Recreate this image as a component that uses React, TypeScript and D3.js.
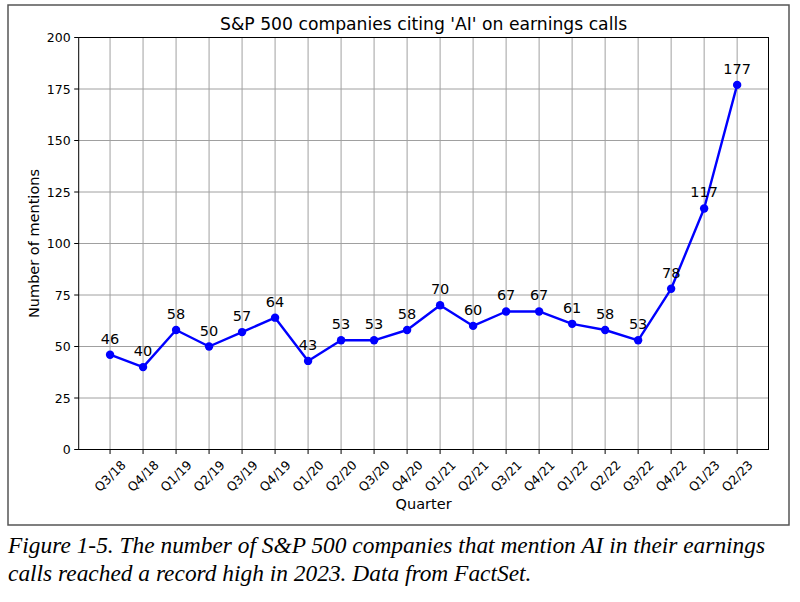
import React from 'react';
import * as d3 from 'd3';

const quarters = [
  'Q3/18', 'Q4/18', 'Q1/19', 'Q2/19', 'Q3/19', 'Q4/19', 'Q1/20', 'Q2/20', 'Q3/20', 'Q4/20',
  'Q1/21', 'Q2/21', 'Q3/21', 'Q4/21', 'Q1/22', 'Q2/22', 'Q3/22', 'Q4/22', 'Q1/23', 'Q2/23',
];
const mentions = [46, 40, 58, 50, 57, 64, 43, 53, 53, 58, 70, 60, 67, 67, 61, 58, 53, 78, 117, 177];
const yTicks = [0, 25, 50, 75, 100, 125, 150, 175, 200];

const W = 800;
const H = 602;
const plot = { left: 78.7, right: 768.5, top: 37.5, bottom: 449.5 };
const font = 'DejaVu Sans, sans-serif';

const App: React.FC = () => {
  const n = quarters.length;
  const x = d3.scaleLinear().domain([-0.95, n - 1 + 0.95]).range([plot.left, plot.right]);
  const y = d3.scaleLinear().domain([0, 200]).range([plot.bottom, plot.top]);

  const line = d3.line<number>()
    .x((_, i) => x(i))
    .y(d => y(d));

  const cx = (plot.left + plot.right) / 2;
  const cy = (plot.top + plot.bottom) / 2;

  return (
    <div style={{ position: 'absolute', left: 0, top: 0, width: W, height: H, background: '#fff' }}>
      <svg width={W} height={H} style={{ display: 'block' }}>
        <rect x={0} y={0} width={W} height={H} fill="#fff" />
        {/* outer frame */}
        <rect x={8} y={5} width={781} height={520} fill="none" stroke="#555" strokeWidth={1.5} />

        {/* grid */}
        <g stroke="#a0a0a0" strokeWidth={1}>
          {quarters.map((q, i) => (
            <line key={q} x1={x(i)} x2={x(i)} y1={plot.top} y2={plot.bottom} />
          ))}
          {yTicks.map(t => (
            <line key={t} x1={plot.left} x2={plot.right} y1={y(t)} y2={y(t)} />
          ))}
        </g>

        {/* spines */}
        <rect x={plot.left} y={plot.top} width={plot.right - plot.left} height={plot.bottom - plot.top}
          fill="none" stroke="#000" strokeWidth={1} />

        {/* y ticks */}
        <g fontFamily={font} fontSize={12.5} fill="#000">
          {yTicks.map(t => (
            <g key={t}>
              <line x1={plot.left - 4.5} x2={plot.left} y1={y(t)} y2={y(t)} stroke="#000" strokeWidth={1} />
              <text x={plot.left - 8} y={y(t)} dy="0.36em" textAnchor="end">{t}</text>
            </g>
          ))}
        </g>

        {/* x ticks */}
        <g fontFamily={font} fontSize={12.5} fill="#000">
          {quarters.map((q, i) => (
            <g key={q}>
              <line x1={x(i)} x2={x(i)} y1={plot.bottom} y2={plot.bottom + 4.5} stroke="#000" strokeWidth={1} />
              <text transform={`translate(${x(i)},476) rotate(-45)`} dy="0.36em" textAnchor="middle">{q}</text>
            </g>
          ))}
        </g>

        {/* series */}
        <path d={line(mentions) ?? ''} fill="none" stroke="#0000ff" strokeWidth={2.4} strokeLinejoin="round" />
        {mentions.map((v, i) => (
          <circle key={i} cx={x(i)} cy={y(v)} r={4.2} fill="#0000ff" />
        ))}
        <g fontFamily={font} fontSize={14.5} fill="#000" textAnchor="middle">
          {mentions.map((v, i) => (
            <text key={i} x={x(i)} y={y(v) - 11}>{v}</text>
          ))}
        </g>

        {/* titles */}
        <text x={cx} y={30} textAnchor="middle" fontFamily={font} fontSize={17.2} fill="#000">
          S&amp;P 500 companies citing 'AI' on earnings calls
        </text>
        <text x={cx} y={509} textAnchor="middle" fontFamily={font} fontSize={14.5} fill="#000">Quarter</text>
        <text transform={`translate(39,${cy}) rotate(-90)`} textAnchor="middle" fontFamily={font} fontSize={14.5} fill="#000">
          Number of mentions
        </text>

        {/* caption */}
        <g fontFamily="Liberation Serif, serif" fontStyle="italic" fontSize={23.4} fill="#000">
          <text x={8} y={553}>Figure 1-5. The number of S&amp;P 500 companies that mention AI in their earnings</text>
          <text x={8} y={581}>calls reached a record high in 2023. Data from FactSet.</text>
        </g>
      </svg>
    </div>
  );
};

export default App;
